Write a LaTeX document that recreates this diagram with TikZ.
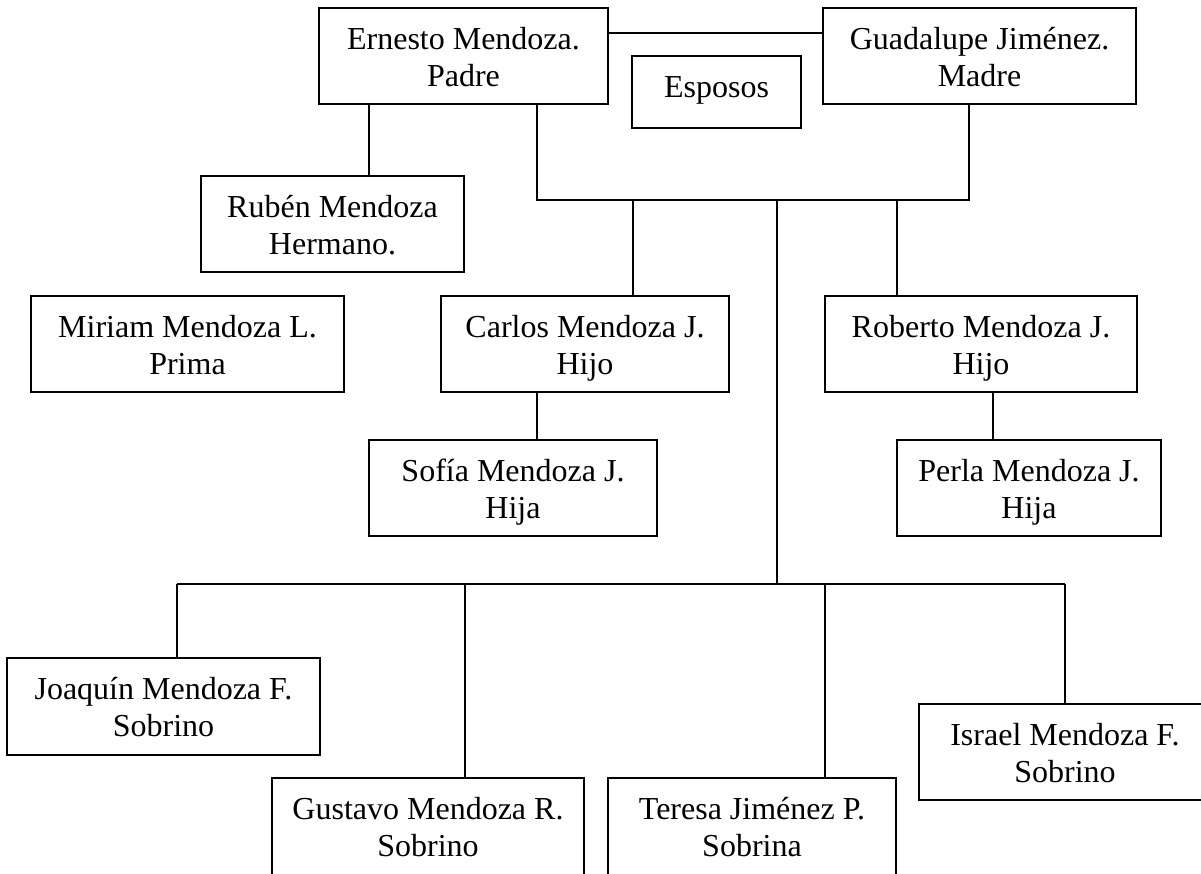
\documentclass[tikz,border=0pt]{standalone}
\usepackage{fontspec}
\setmainfont{Liberation Serif}
% box text: fixed height #1, width #2, lines set from the top
\newcommand{\ptext}[3]{\parbox[c][#1][t]{#2}{\fontsize{32}{37}\selectfont\centering\rule{0pt}{41pt}#3}}
\begin{document}
\begin{tikzpicture}[x=1pt,y=-1pt,
  person/.style={draw, line width=1.8pt, inner sep=0pt, outer sep=0pt},
  link/.style={line width=1.8pt, line join=miter}]
\useasboundingbox (0,0) rectangle (1201,873);
\fill[white] (0,0) rectangle (1201,873);
\clip (0,0) rectangle (1201,873);

% parents and siblings
\node[person] (ern) at (463.5,56) {\ptext{96pt}{289pt}{Ernesto Mendoza.\\Padre}};
\node[person] (gua) at (979.5,56) {\ptext{96pt}{313pt}{Guadalupe Jiménez.\\Madre}};
\node[person] (esp) at (716.5,92) {\ptext{72pt}{169pt}{Esposos}};
\node[person] (rub) at (332.5,224) {\ptext{96pt}{263pt}{Rubén Mendoza\\Hermano.}};
\node[person] (mir) at (187.5,344) {\ptext{96pt}{313pt}{Miriam Mendoza L.\\Prima}};

% children
\node[person] (car) at (585,344) {\ptext{96pt}{288pt}{Carlos Mendoza J.\\Hijo}};
\node[person] (rob) at (981,344) {\ptext{96pt}{312pt}{Roberto Mendoza J.\\Hijo}};

% grandchildren
\node[person] (sof) at (513,488) {\ptext{96pt}{288pt}{Sofía Mendoza J.\\Hija}};
\node[person] (per) at (1029,488) {\ptext{96pt}{264pt}{Perla Mendoza J.\\Hija}};

% nephews and nieces (the last three run past the page edge)
\node[person] (joa) at (163.5,706.5) {\ptext{97pt}{313pt}{Joaquín Mendoza F.\\Sobrino}};
\node[person] (isr) at (1075,752) {\ptext{96pt}{292pt}{Israel Mendoza F.\\Sobrino}\rule{20pt}{0pt}};
\node[person] (gus) at (428,830) {\ptext{104pt}{312pt}{Gustavo Mendoza R.\\Sobrino}};
\node[person] (ter) at (752,830) {\ptext{104pt}{288pt}{Teresa Jiménez P.\\Sobrina}};

% junction points
\coordinate (jl) at (537,200);
\coordinate (jc) at (633,200);
\coordinate (jm) at (777,200);
\coordinate (jo) at (897,200);
\coordinate (jr) at (969,200);
\coordinate (b1) at (177,584);
\coordinate (b2) at (465,584);
\coordinate (bm) at (777,584);
\coordinate (b3) at (825,584);
\coordinate (b4) at (1065,584);

% marriage line
\draw[link] ([yshift=-25pt]ern.north east) -- ([yshift=-25pt]gua.north west);
% brother
\draw[link] ([xshift=50pt]ern.south west) -- ([xshift=50pt]ern.south west |- rub.north);
% parents to children bar
\draw[link] (ern.south -| jl) -- (jl) -- (jr) -- (gua.south -| jr);
\draw[link] (jc) -- (car.north -| jc);
\draw[link] (jo) -- (rob.north -| jo);
% children to grandchildren
\draw[link] ([xshift=96pt]car.south west) -- ([xshift=96pt]car.south west |- sof.north);
\draw[link] ([xshift=168pt]rob.south west) -- ([xshift=168pt]rob.south west |- per.north);
% trunk to nephews bar
\draw[link] (jm) -- (bm);
\draw[link] (b1) -- (b4);
\draw[link] (b1) -- (joa.north -| b1);
\draw[link] (b2) -- (gus.north -| b2);
\draw[link] (b3) -- (ter.north -| b3);
\draw[link] (b4) -- (isr.north -| b4);
\end{tikzpicture}
\end{document}
